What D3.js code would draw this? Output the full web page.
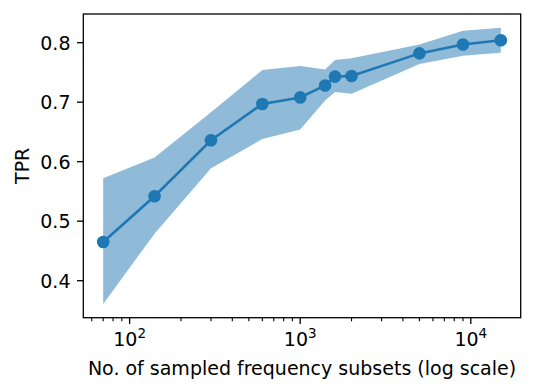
<!DOCTYPE html>
<html>
<head>
<meta charset="utf-8">
<script src="https://cdn.jsdelivr.net/npm/d3@7"></script>
<style>
	body { margin: 0; background: #fff; }
	text { font-family: "DejaVu Sans", sans-serif; fill: #000; }
</style>
</head>
<body>
<div id="chart"></div>
<script>
// sampled subset counts and TPR (mean with lower / upper band)
const subsets = [70, 140, 300, 600, 1000, 1400, 1600, 2000, 5000, 9000, 15000];
const tprMean = [0.465, 0.542, 0.636, 0.697, 0.708, 0.728, 0.743, 0.744, 0.782, 0.797, 0.804];
const tprLower = [0.361, 0.479, 0.589, 0.638, 0.654, 0.703, 0.717, 0.714, 0.764, 0.778, 0.783];
const tprUpper = [0.572, 0.607, 0.683, 0.754, 0.761, 0.755, 0.771, 0.774, 0.797, 0.820, 0.825];
const yTicks = [0.4, 0.5, 0.6, 0.7, 0.8];
const xTicks = [100, 1000, 10000];

const width = 534;
const height = 392;
const margin = { top: 14, right: 13.3, bottom: 74.3, left: 83.3 };
const blue = '#1f77b4';
const fontSize = 19;

const data = subsets.map((x, i) => ({
	x,
	mean: tprMean[i],
	lo: tprLower[i],
	hi: tprUpper[i]
}));

// matplotlib style 5% margins (log space for x)
const lx = d3.extent(subsets).map(Math.log10);
const padX = (lx[1] - lx[0]) * 0.05;
const yMin = d3.min(tprLower);
const yMax = d3.max(tprUpper);
const padY = (yMax - yMin) * 0.05;

const x = d3.scaleLog()
	.domain([Math.pow(10, lx[0] - padX), Math.pow(10, lx[1] + padX)])
	.range([margin.left, width - margin.right]);

const y = d3.scaleLinear()
	.domain([yMin - padY, yMax + padY])
	.range([height - margin.bottom, margin.top]);

const svg = d3.select('#chart')
	.append('svg')
	.attr('width', width)
	.attr('height', height);

// band
svg.append('path')
	.datum(data)
	.attr('fill', blue)
	.attr('fill-opacity', 0.5)
	.attr('d', d3.area()
		.x((d) => x(d.x))
		.y0((d) => y(d.lo))
		.y1((d) => y(d.hi))
	);

// mean line
svg.append('path')
	.datum(data)
	.attr('fill', 'none')
	.attr('stroke', blue)
	.attr('stroke-width', 2.6)
	.attr('d', d3.line()
		.x((d) => x(d.x))
		.y((d) => y(d.mean))
	);

svg.append('g')
	.selectAll('circle')
	.data(data)
	.join('circle')
	.attr('cx', (d) => x(d.x))
	.attr('cy', (d) => y(d.mean))
	.attr('r', 6.3)
	.attr('fill', blue);

// axes
const minorTicks = x.ticks().filter((t) => !xTicks.includes(t));

const xAxis = svg.append('g')
	.attr('transform', `translate(0,${height - margin.bottom})`);

xAxis.selectAll('line.minor')
	.data(minorTicks)
	.join('line')
	.attr('class', 'minor')
	.attr('x1', (d) => x(d))
	.attr('x2', (d) => x(d))
	.attr('y1', 0)
	.attr('y2', 3.6)
	.attr('stroke', '#000')
	.attr('stroke-width', 1.1);

const xMajor = xAxis.selectAll('g.tick')
	.data(xTicks)
	.join('g')
	.attr('class', 'tick')
	.attr('transform', (d) => `translate(${x(d)},0)`);

xMajor.append('line')
	.attr('y2', 6.3)
	.attr('stroke', '#000')
	.attr('stroke-width', 1.3);

const xLabel = xMajor.append('text')
	.attr('y', 28.5)
	.attr('text-anchor', 'middle')
	.attr('font-size', fontSize);
xLabel.append('tspan').text('10');
xLabel.append('tspan')
	.attr('dy', -8)
	.attr('font-size', 13.5)
	.text((d) => Math.round(Math.log10(d)));

const yAxis = svg.append('g')
	.attr('transform', `translate(${margin.left},0)`);

const yMajor = yAxis.selectAll('g.tick')
	.data(yTicks)
	.join('g')
	.attr('class', 'tick')
	.attr('transform', (d) => `translate(0,${y(d)})`);

yMajor.append('line')
	.attr('x2', -6.3)
	.attr('stroke', '#000')
	.attr('stroke-width', 1.3);

yMajor.append('text')
	.attr('x', -12.8)
	.attr('dy', '0.36em')
	.attr('text-anchor', 'end')
	.attr('font-size', fontSize)
	.text((d) => d.toFixed(1));

// frame
svg.append('rect')
	.attr('x', margin.left)
	.attr('y', margin.top)
	.attr('width', width - margin.left - margin.right)
	.attr('height', height - margin.top - margin.bottom)
	.attr('fill', 'none')
	.attr('stroke', '#000')
	.attr('stroke-width', 1.3);

// axis titles
svg.append('text')
	.attr('x', (margin.left + width - margin.right) / 2)
	.attr('y', 374.5)
	.attr('text-anchor', 'middle')
	.attr('font-size', fontSize)
	.text('No. of sampled frequency subsets (log scale)');

svg.append('text')
	.attr('transform', `translate(29,${(margin.top + height - margin.bottom) / 2}) rotate(-90)`)
	.attr('text-anchor', 'middle')
	.attr('font-size', fontSize)
	.text('TPR');
</script>
</body>
</html>
